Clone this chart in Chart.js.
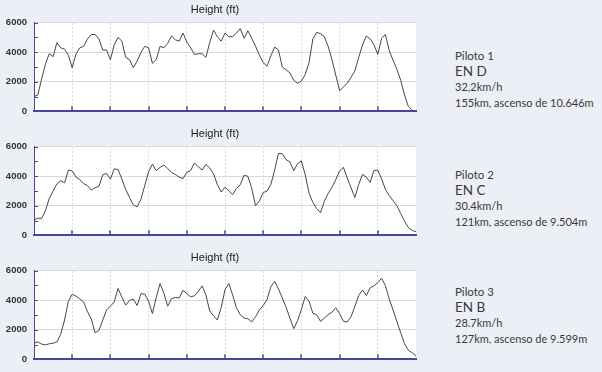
<!DOCTYPE html>
<html>
<head>
<meta charset="utf-8">
<script src="https://cdn.jsdelivr.net/npm/chart.js@4.4.1/dist/chart.umd.min.js"></script>
<style>
  html, body { margin: 0; padding: 0; background: #edeff7; }
  body { width: 602px; height: 372px; position: relative; overflow: hidden; }
  .chart { position: absolute; left: 0; width: 430px; height: 124px; }
  .info { position: absolute; left: 455px; font-family: Lato, sans-serif; color: #3a3a3a; font-size: 11px; line-height: 15.7px; white-space: nowrap; }
  .info .name { font-size: 11.5px; }
  .info .cls { font-size: 13.5px; }
</style>
</head>
<body>
<div class="chart" style="top:0px"><canvas id="chart1"></canvas></div>
<div class="chart" style="top:124px"><canvas id="chart2"></canvas></div>
<div class="chart" style="top:248px"><canvas id="chart3"></canvas></div>

<div class="info" style="top:48px">
  <div class="name">Piloto 1</div>
  <div class="cls">EN D</div>
  <div>32,2km/h</div>
  <div>155km, ascenso de 10.646m</div>
</div>
<div class="info" style="top:167px">
  <div class="name">Piloto 2</div>
  <div class="cls">EN C</div>
  <div>30.4km/h</div>
  <div>121km, ascenso de 9.504m</div>
</div>
<div class="info" style="top:284px">
  <div class="name">Piloto 3</div>
  <div class="cls">EN B</div>
  <div>28.7km/h</div>
  <div>127km, ascenso de 9.599m</div>
</div>

<script>
// height profiles (ft), 101 samples each
const heights1 = [1000, 1100, 2200, 3200, 3900, 3700, 4650, 4300, 4200, 3800,
    2950, 3900, 4300, 4400, 4900, 5200, 5200, 4900, 4150, 4150,
    3500, 4500, 5000, 4750, 3650, 3500, 2950, 3400, 4000, 4400,
    4300, 3250, 3500, 4400, 4300, 4600, 5100, 4850, 4750, 5300,
    4700, 4300, 3850, 3900, 3900, 3650, 4650, 5500, 5050, 4750,
    5300, 5050, 5050, 5300, 5600, 4950, 5450, 4950, 4400, 3800,
    3300, 3050, 3750, 4350, 4150, 3000, 2800, 2600, 2100, 1900,
    2050, 2500, 3300, 4900, 5350, 5250, 5050, 4400, 3500, 2450,
    1400, 1650, 1900, 2300, 2750, 3650, 4500, 5100, 4900, 4500,
    3850, 4950, 5200, 4100, 3450, 2850, 2100, 1100, 330, 70, 0];

const heights2 = [1030, 1160, 1140, 1660, 2500, 3000, 3480, 3700, 3550, 4420,
    4360, 3940, 3770, 3500, 3370, 3070, 3220, 3330, 4100, 4200,
    3800, 4500, 4450, 3810, 3110, 2560, 2060, 1930, 2450, 3370,
    4310, 4820, 4380, 4600, 4750, 4530, 4250, 4120, 3940, 3830,
    4270, 4380, 4900, 4640, 4420, 4800, 4560, 4160, 3440, 2930,
    3260, 3000, 2750, 3180, 3420, 4070, 3990, 3180, 2000, 2320,
    2890, 3000, 3440, 4420, 5550, 5520, 5120, 4970, 4380, 4860,
    5040, 4100, 2850, 2230, 1800, 1530, 2300, 2830, 3260, 3770,
    4360, 4600, 3880, 3220, 2560, 3440, 4120, 3940, 3590, 4380,
    4420, 3810, 3110, 2690, 2340, 2010, 1470, 960, 530, 330, 240];

const heights3 = [1090, 1180, 1030, 980, 1050, 1090, 1180, 1700, 2660, 3930,
    4410, 4280, 4100, 3880, 3230, 2730, 1790, 1960, 2660, 3340,
    3600, 3880, 4800, 4210, 3670, 3990, 4080, 3640, 4450, 4410,
    3930, 3100, 4190, 5130, 4470, 3600, 4100, 4190, 4150, 4670,
    4450, 4230, 4300, 4600, 4970, 4360, 3270, 2950, 2660, 3490,
    4730, 5130, 4360, 3490, 3010, 2790, 2750, 2530, 2880, 3340,
    3640, 4040, 4910, 5280, 4760, 4150, 3530, 2790, 2070, 2620,
    3380, 4250, 3930, 3120, 3010, 2570, 2790, 3030, 3190, 3490,
    3100, 2570, 2530, 2880, 3580, 4320, 4690, 4320, 4840, 4970,
    5190, 5500, 4970, 4080, 3340, 2550, 1790, 1050, 610, 440, 220];

const yTicks = [0, 2000, 4000, 6000];
const titleText = 'Height (ft)';

const axisColor = '#46469a';
const gridColor = '#d9d9dd';

// white plot area
const plotBackground = {
    id: 'plotBackground',
    beforeDraw(chart) {
        const { ctx, chartArea: a } = chart;
        ctx.save();
        ctx.fillStyle = '#ffffff';
        ctx.fillRect(a.left, a.top, a.width, a.height);
        ctx.restore();
    }
};

// short tick marks pointing into the plot
const innerTicks = {
    id: 'innerTicks',
    afterDraw(chart) {
        const { ctx, chartArea: a, scales: { x, y } } = chart;
        ctx.save();
        ctx.strokeStyle = axisColor;
        ctx.lineWidth = 1.5;
        x.ticks.forEach(t => {
            if (t.value <= x.min || t.value >= x.max) return;
            const px = Math.round(x.getPixelForValue(t.value));
            ctx.beginPath();
            ctx.moveTo(px, a.bottom);
            ctx.lineTo(px, a.bottom - 5);
            ctx.stroke();
        });
        ctx.lineWidth = 1;
        y.ticks.forEach(t => {
            const py = Math.round(y.getPixelForValue(t.value)) + 0.5;
            ctx.beginPath();
            ctx.moveTo(a.left, py);
            ctx.lineTo(a.left + 4, py);
            ctx.stroke();
        });
        ctx.restore();
    }
};

function makeChart(id, heights) {
    const points = heights.map((_, i) => i);
    return new Chart(document.getElementById(id), {
        type: 'line',
        data: {
            labels: points,
            datasets: [{
                data: heights,
                borderColor: '#474747',
                borderWidth: 1,
                pointRadius: 0,
                tension: 0,
                fill: false
            }]
        },
        options: {
            responsive: true,
            maintainAspectRatio: false,
            animation: false,
            layout: { padding: { left: 0, right: 0, top: 0, bottom: 10.7 } },
            plugins: {
                legend: { display: false },
                tooltip: { enabled: false },
                title: {
                    display: true,
                    text: titleText,
                    color: '#1a1a1a',
                    font: { family: 'Liberation Sans', size: 11, weight: 'normal' },
                    padding: { top: 3.5, bottom: 6 }
                }
            },
            scales: {
                x: {
                    type: 'linear',
                    min: 0,
                    max: points.length - 1,
                    ticks: { display: false, stepSize: 10 },
                    grid: {
                        drawTicks: false,
                        color: c => (c.tick.value > 0 && c.tick.value < points.length - 1) ? gridColor : 'transparent'
                    },
                    border: { color: axisColor, width: 2, dash: [2, 2] }
                },
                y: {
                    min: 0,
                    max: 6000,
                    afterFit: s => { s.width = 34; },
                    ticks: {
                        stepSize: 1000,
                        padding: 7,
                        color: '#333',
                        font: { family: 'Liberation Sans', size: 9.5, weight: 'bold' },
                        callback: v => yTicks.includes(v) ? v : ''
                    },
                    grid: {
                        drawTicks: false,
                        color: c => yTicks.includes(c.tick.value) ? gridColor : 'transparent'
                    },
                    border: { color: axisColor, width: 1 }
                },
                // empty right margin so the title centres on the canvas like the original
                gap: {
                    position: 'right',
                    afterFit: s => { s.width = 14; },
                    ticks: { display: false },
                    grid: { display: false },
                    border: { display: false }
                }
            }
        },
        plugins: [plotBackground, innerTicks]
    });
}

makeChart('chart1', heights1);
makeChart('chart2', heights2);
makeChart('chart3', heights3);
</script>
</body>
</html>
